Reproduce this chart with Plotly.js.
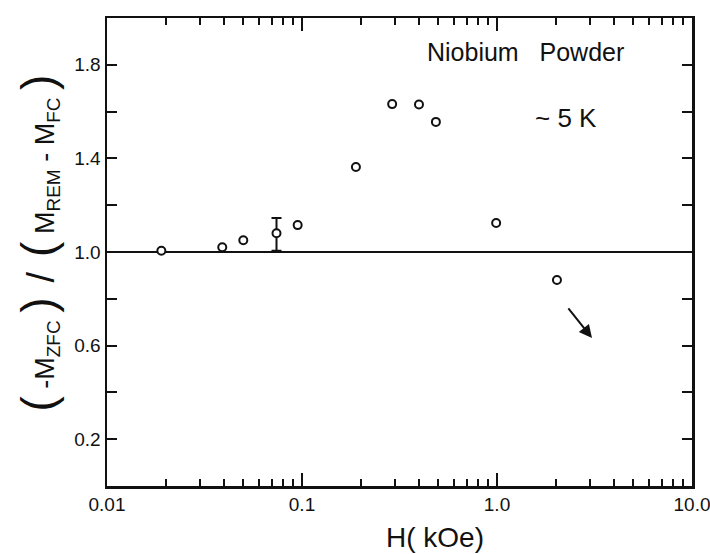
<!DOCTYPE html>
<html>
<head>
<meta charset="utf-8">
<script src="https://cdn.plot.ly/plotly-3.0.1.min.js"></script>
<style>html,body{margin:0;padding:0;background:#fff}#chart{width:710px;height:554px}</style>
</head>
<body>
<div id="chart"></div>
<script>
// Data
const fieldKOe = [0.019, 0.039, 0.050, 0.074, 0.095, 0.189, 0.29, 0.398, 0.486, 0.99, 2.03];
const ratio    = [1.005, 1.02, 1.05, 1.08, 1.115, 1.363, 1.632, 1.63, 1.556, 1.124, 0.88];
// single point carrying an error bar
const errPointX = [0.074];
const errPointY = [1.08];
const errPlus   = [0.065];
const errMinus  = [0.075];
const refLineX = [0.01, 10];
const refLineY = [1.0, 1.0];
const xMajorVals = [0.01, 0.1, 1, 10];
const xMajorText = ['0.01', '0.1', '1.0', '10.0'];
const yTickVals = [0.2, 0.4, 0.6, 0.8, 1.0, 1.2, 1.4, 1.6, 1.8];
const yTickText = ['0.2', '', '0.6', '', '1.0', '', '1.4', '', '1.8'];
const arrowTail = [2.29, 0.765];
const arrowHead = [3.07, 0.632];

const xMinorVals = [];
[0.01, 0.1, 1].forEach(d => { for (let k = 2; k <= 9; k++) xMinorVals.push(+(d * k).toPrecision(3)); });

const font = 'Liberation Sans, Arial, sans-serif';
const par = s => '<span style="font-size:46px">' + s + '</span>';
const sub = s => '<sub><span style="font-size:19px">' + s + '</span></sub>';
const slash = '<span style="font-size:38px">/</span>';

const traces = [
  {x: refLineX, y: refLineY, mode: 'lines', line: {color: '#111', width: 2}, hoverinfo: 'skip', showlegend: false},
  {x: errPointX, y: errPointY, mode: 'markers', showlegend: false,
   marker: {symbol: 'circle-open', size: 1, color: 'rgba(0,0,0,0)', line: {width: 0}},
   error_y: {type: 'data', symmetric: false, array: errPlus, arrayminus: errMinus, color: '#111', thickness: 2, width: 5}},
  {x: fieldKOe, y: ratio, mode: 'markers', showlegend: false,
   marker: {symbol: 'circle', size: 8, color: '#fff', line: {width: 2, color: '#111'}}}
];

const layout = {
  width: 710, height: 554,
  margin: {l: 107, r: 18, t: 18, b: 68},
  paper_bgcolor: '#fff', plot_bgcolor: '#fff',
  font: {family: font, color: '#111', size: 19},
  xaxis: {
    type: 'log', range: [-2, 1], showgrid: false, zeroline: false,
    showline: true, linecolor: '#111', linewidth: 2.5, mirror: 'ticks',
    ticks: 'inside', ticklen: 13, tickwidth: 2, tickcolor: '#111',
    tickmode: 'array', tickvals: xMajorVals, ticktext: xMajorText, ticklabeloverflow: 'allow',
    tickfont: {family: font, size: 19, color: '#111'},
    minor: {tickmode: 'array', tickvals: xMinorVals, ticks: 'inside', ticklen: 7, tickwidth: 2, tickcolor: '#111', showgrid: false}
  },
  yaxis: {
    range: [0.0, 2.0], showgrid: false, zeroline: false,
    showline: true, linecolor: '#111', linewidth: 2.5, mirror: 'ticks',
    ticks: 'inside', ticklen: 10, tickwidth: 2, tickcolor: '#111',
    tickmode: 'array', tickvals: yTickVals, ticktext: yTickText,
    tickfont: {family: font, size: 19, color: '#111'}
  },
  annotations: [
    {text: 'Niobium&nbsp;&nbsp;&nbsp;Powder', xref: 'paper', yref: 'paper', x: 0.715, y: 0.928, xanchor: 'center', yanchor: 'middle', showarrow: false, font: {family: font, size: 25, color: '#111'}},
    {text: '~ 5 K', xref: 'paper', yref: 'paper', x: 0.785, y: 0.786, xanchor: 'center', yanchor: 'middle', showarrow: false, font: {family: font, size: 26, color: '#111'}},
    {text: 'H( kOe)', xref: 'paper', yref: 'paper', x: 0.56, y: -0.11, xanchor: 'center', yanchor: 'middle', showarrow: false, font: {family: font, size: 28, color: '#111'}},
    {text: par('(') + ' -M' + sub('ZFC') + ' ' + par(')') + '  ' + slash + '  ' + par('(') + ' M' + sub('REM') + ' - M' + sub('FC') + ' ' + par(')'),
     xref: 'paper', yref: 'paper', x: -0.118, y: 0.52, xanchor: 'center', yanchor: 'middle', textangle: -90, showarrow: false,
     font: {family: font, size: 27, color: '#111'}},
    {x: Math.log10(arrowHead[0]), y: arrowHead[1], ax: Math.log10(arrowTail[0]), ay: arrowTail[1], xref: 'x', yref: 'y', axref: 'x', ayref: 'y',
     text: '', showarrow: true, arrowhead: 2, arrowsize: 1.3, arrowwidth: 2, arrowcolor: '#111'}
  ]
};

Plotly.newPlot('chart', traces, layout, {displayModeBar: false, staticPlot: true});
</script>
</body>
</html>
